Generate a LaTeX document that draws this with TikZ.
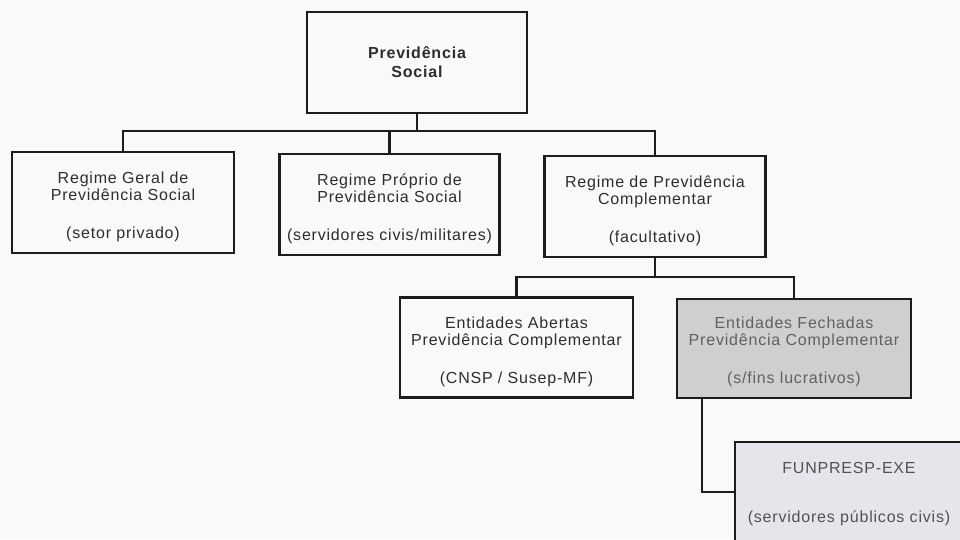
\documentclass[tikz,border=0pt]{standalone}
\usepackage{fontspec}
\setmainfont[LetterSpace=5]{Liberation Sans}
\definecolor{bgc}{RGB}{249,249,247}
\definecolor{linec}{RGB}{28,28,28}
\definecolor{textc}{RGB}{45,45,45}
\definecolor{grayfill}{RGB}{207,207,207}
\definecolor{lavfill}{RGB}{229,229,235}
\newcommand\btext[2][5pt]{\raisebox{-#1}[\height][\depth]{\begin{tabular}{@{}c@{}}#2\end{tabular}}}
\begin{document}
\begin{tikzpicture}[x=1pt,y=-1pt,
  box/.style={draw=linec, line width=2.2pt, fill=bgc, align=center, inner sep=0pt,
    font=\fontsize{16}{17}\selectfont, text=textc},
  conn/.style={draw=linec, line width=2.2pt}]
\useasboundingbox (0,0) rectangle (960,539);
\fill[bgc] (0,0) rectangle (960,539);
\clip (0,0) rectangle (960,539);

\node[box, font=\bfseries\fontsize{16}{19}\selectfont, minimum width=220pt, minimum height=101pt] (ps) at (417,62.5) {Previdência\\Social};

\node[box, minimum width=222pt, minimum height=101pt] (b1) at (123,202.5) {\btext{Regime Geral de\\Previdência Social\\[21pt](setor privado)}};
\node[box, minimum width=220pt, minimum height=101pt] (b2) at (389.5,204.5) {\btext{Regime Próprio de\\Previdência Social\\[21pt](servidores civis/militares)}};
\node[box, minimum width=221pt, minimum height=101pt] (b3) at (655,206.5) {\btext{Regime de Previdência\\Complementar\\[21pt](facultativo)}};

\node[box, minimum width=233pt, minimum height=100pt] (b4) at (516.5,347.5) {\btext{Entidades Abertas\\Previdência Complementar\\[21pt](CNSP / Susep-MF)}};
\node[box, fill=grayfill, text=black!62, minimum width=234pt, minimum height=99pt] (b5) at (794,348.5) {\btext[4pt]{Entidades Fechadas\\Previdência Complementar\\[21pt](s/fins lucrativos)}};

\node[box, fill=lavfill, text=black!68, minimum width=228pt, minimum height=103pt] (b6) at (849,493.5) {\btext[1.5pt]{FUNPRESP-EXE\\[32pt](servidores públicos civis)}};

\coordinate (j1) at (417,131);
\draw[conn] (ps.south) -- (j1);
\draw[conn] (b1.north) |- (j1) -| (b3.north);
\draw[conn] (b2.north) -- (b2.north |- j1);

\coordinate (j2) at (655,277);
\draw[conn] (b3.south) -- (j2);
\draw[conn] (b4.north) |- (j2) -| (b5.north);

\coordinate (j3) at (702,492);
\draw[conn] (b5.south -| j3) -- (j3) -- (j3 -| b6.west);
\end{tikzpicture}
\end{document}
